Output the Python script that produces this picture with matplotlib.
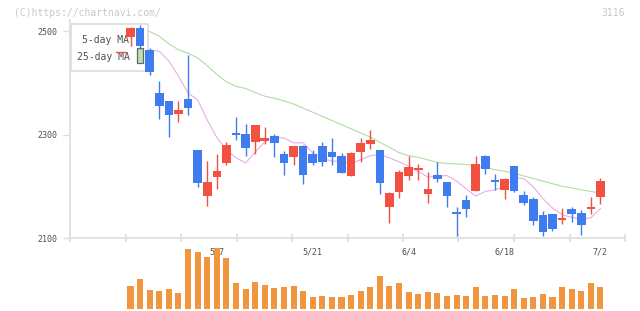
import matplotlib
matplotlib.use("Agg")
import matplotlib.pyplot as plt
from matplotlib.patches import Rectangle
from matplotlib.lines import Line2D

dates = ["4/19", "4/22", "4/23", "4/24", "4/25", "4/26", "4/30", "5/1", "5/2", "5/7",
         "5/8", "5/9", "5/10", "5/13", "5/14", "5/15", "5/16", "5/17", "5/20", "5/21",
         "5/22", "5/23", "5/24", "5/27", "5/28", "5/29", "5/30", "5/31", "6/3", "6/4",
         "6/5", "6/6", "6/7", "6/10", "6/11", "6/12", "6/13", "6/14", "6/17", "6/18",
         "6/19", "6/20", "6/21", "6/24", "6/25", "6/26", "6/27", "6/28", "7/1", "7/2"]
opens = [2489, 2506, 2463, 2380, 2365, 2340, 2369, 2270, 2182, 2218, 2244, 2303, 2301, 2286, 2287, 2297, 2262,
         2257, 2278, 2262, 2278, 2266, 2258, 2220, 2267, 2282, 2270, 2160, 2189, 2220, 2231, 2185, 2222, 2208,
         2150, 2173, 2191, 2258, 2212, 2193, 2239, 2183, 2175, 2144, 2146, 2135, 2156, 2148, 2156, 2179]
highs = [2508, 2512, 2467, 2403, 2365, 2365, 2454, 2270, 2249, 2262, 2286, 2334, 2320, 2318, 2314, 2301, 2268,
         2278, 2280, 2270, 2286, 2293, 2264, 2266, 2293, 2309, 2270, 2189, 2231, 2258, 2243, 2228, 2247, 2208,
         2160, 2183, 2258, 2260, 2224, 2216, 2239, 2191, 2179, 2152, 2146, 2158, 2160, 2154, 2179, 2216]
lows = [2472, 2465, 2415, 2330, 2296, 2325, 2338, 2199, 2162, 2195, 2242, 2289, 2259, 2263, 2282, 2257, 2222,
        2242, 2205, 2242, 2240, 2242, 2226, 2220, 2247, 2272, 2185, 2129, 2177, 2212, 2212, 2168, 2208, 2160,
        2104, 2141, 2191, 2224, 2193, 2175, 2189, 2164, 2125, 2104, 2114, 2127, 2131, 2106, 2146, 2166]
closes = [2506, 2472, 2421, 2356, 2338, 2348, 2352, 2207, 2208, 2229, 2280, 2300, 2274, 2318, 2293, 2284, 2244,
          2278, 2222, 2244, 2246, 2257, 2226, 2264, 2284, 2289, 2207, 2187, 2228, 2237, 2235, 2195, 2214, 2181,
          2146, 2156, 2243, 2233, 2208, 2214, 2191, 2168, 2133, 2112, 2117, 2139, 2146, 2125, 2160, 2210]
ma5 = [2463, 2463, 2463, 2461, 2442, 2413, 2380, 2367, 2328, 2294, 2270, 2255, 2245, 2266, 2286, 2295, 2293,
       2284, 2284, 2264, 2253, 2249, 2247, 2245, 2251, 2259, 2261, 2255, 2247, 2239, 2228, 2218, 2219, 2221,
       2210, 2195, 2181, 2190, 2193, 2200, 2216, 2215, 2199, 2176, 2158, 2145, 2140, 2136, 2139, 2157]
ma25 = [2510, 2504, 2499, 2490, 2475, 2464, 2457, 2448, 2433, 2416, 2402, 2393, 2389, 2381, 2374, 2370, 2365,
        2359, 2351, 2343, 2335, 2327, 2319, 2311, 2303, 2295, 2285, 2275, 2265, 2259, 2256, 2251, 2246, 2244,
        2243, 2242, 2239, 2236, 2232, 2229, 2225, 2220, 2215, 2210, 2205, 2200, 2197, 2193, 2190, 2187]
volume = [230, 300, 190, 180, 200, 160, 600, 570, 520, 610, 510, 260, 200, 270, 240, 210, 220, 230, 180, 120,
          130, 120, 120, 140, 180, 220, 330, 230, 260, 170, 150, 170, 160, 130, 140, 130, 220, 130, 140, 130,
          200, 110, 120, 150, 120, 220, 200, 180, 260, 220]
y_ticks = [2100, 2300, 2500]
label_dates = ["5/7", "5/21", "6/4", "6/18", "7/2"]
legend_labels = ["5-day MA", "25-day MA"]

RED = "#f25142"
BLUE = "#3f7cf0"
ORANGE = "#f1963e"
PINK = "#e6aee8"
GREEN = "#b2dca4"
GRID = "#dddddd"
TXT = "#505050"
MONO = "DejaVu Sans Mono"

W, H = 640, 311
fig = plt.figure(figsize=(W / 100, H / 100), dpi=100)
L, R, T, B = 70, 625, 20, 238
ax = fig.add_axes([L / W, (H - B) / H, (R - L) / W, (B - T) / H])
VT, VB = 248, 309
axv = fig.add_axes([L / W, (H - VB) / H, (R - L) / W, (VB - VT) / H])
axv.set_zorder(-1)

n = len(closes)
xs = list(range(n))
xmin, xmax = -6.31, 51.56
ax.set_xlim(xmin, xmax)
axv.set_xlim(xmin, xmax)
ax.set_ylim(2100, 2521.3)
axv.set_ylim(0, 610)


def pxa(x, y):
    return ((x - L) / (R - L), (B - y) / (B - T))


# moving averages (under legend box)
ax.plot(xs, ma5, color=PINK, lw=0.8, zorder=1)
ax.plot(xs, ma25, color=GREEN, lw=0.8, zorder=1)

# legend box
x0, y0 = pxa(70.7, 71)
x1, y1 = pxa(148.3, 24.3)
ax.add_patch(Rectangle((x0, y0), x1 - x0, y1 - y0, transform=ax.transAxes,
                       facecolor="white", edgecolor=GRID, lw=1.2, zorder=2, clip_on=False))
for lab, yy in zip(legend_labels, [40, 57]):
    tx, ty = pxa(129.5, yy)
    ax.text(tx, ty, lab, transform=ax.transAxes, ha="right", va="center",
            fontsize=7, family=MONO, color=TXT, zorder=2.5)
ax.add_line(Line2D([pxa(116, 0)[0], pxa(124.5, 0)[0]], [pxa(0, 52)[1]] * 2,
                   transform=ax.transAxes, color=RED, lw=1.0, zorder=2.6, clip_on=False))
gx0, gy0 = pxa(136.8, 63)
gx1, gy1 = pxa(143.2, 48)
ax.add_patch(Rectangle((gx0, gy0), gx1 - gx0, gy1 - gy0, transform=ax.transAxes,
                       facecolor="#bfe0b4", edgecolor="#666666", lw=0.9, zorder=2.6, clip_on=False))

# candles
for i in xs:
    o, h, l, c = opens[i], highs[i], lows[i], closes[i]
    col = RED if c >= o else BLUE
    ax.vlines(i, l, h, color=col, lw=1.0, zorder=3)
    lo = min(o, c)
    hgt = max(abs(c - o), 3.0)
    ax.add_patch(Rectangle((i - 0.45, lo), 0.9, hgt, facecolor=col, edgecolor="none", zorder=3.1))

# axes styling
for s in ["top", "right"]:
    ax.spines[s].set_visible(False)
for s in ["left", "bottom"]:
    ax.spines[s].set_color(GRID)
    ax.spines[s].set_linewidth(1.2)
    ax.spines[s].set_zorder(0.5)
ax.set_yticks(y_ticks)
ax.set_yticklabels([str(v) for v in y_ticks], fontsize=6, family=MONO, color=TXT)
ax.tick_params(axis="y", length=5, width=1.0, color=GRID, pad=4)
ax.set_xticks([xmin + k * (xmax - xmin) / 10 for k in range(11)])
ax.set_xticklabels([])
ax.tick_params(axis="x", direction="inout", length=6, width=1.2, color=GRID)
ax.patch.set_alpha(0)

# volume
axv.bar(xs, volume, width=0.63, color=ORANGE, zorder=2)
axv.axis("off")
for d in label_dates:
    axv.text(dates.index(d), (VB - 252) / (VB - VT), d, transform=axv.get_xaxis_transform(),
             ha="center", va="center", fontsize=6, family=MONO, color=TXT, zorder=1)

fig.text(14 / W, 1 - 12.5 / H, "(C)https://chartnavi.com/", fontsize=7, family=MONO,
         color="#c8c8c8", ha="left", va="center")
fig.text(625 / W, 1 - 12.5 / H, "3116", fontsize=7, family=MONO, color="#c8c8c8",
         ha="right", va="center")

fig.savefig("out.png", dpi=100)
